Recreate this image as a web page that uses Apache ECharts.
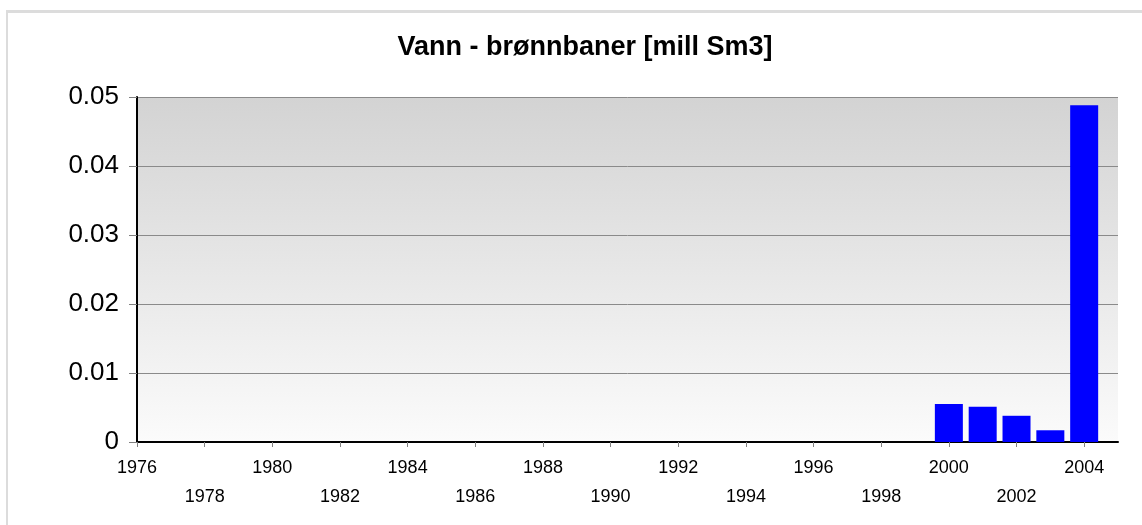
<!DOCTYPE html>
<html>
<head>
<meta charset="utf-8">
<script src="https://cdn.jsdelivr.net/npm/echarts@6/dist/echarts.min.js"></script>
<style>
html,body{margin:0;padding:0;background:#fff;}
#chart{width:1142px;height:525px;}
</style>
</head>
<body>
<div id="chart"></div>
<script>
const title = 'Vann - brønnbaner [mill Sm3]';
const years = [2000, 2001, 2002, 2003, 2004];
const values = [0.0055, 0.0051, 0.0038, 0.0017, 0.0488];
const xTickYears = [1976, 1978, 1980, 1982, 1984, 1986, 1988, 1990, 1992, 1994, 1996, 1998, 2000, 2002, 2004];
const yTicks = [0, 0.01, 0.02, 0.03, 0.04, 0.05];

const chart = echarts.init(document.getElementById('chart'), null, {renderer: 'canvas'});
const font = '"Liberation Sans", Arial, sans-serif';
chart.setOption({
  animation: false,
  backgroundColor: '#ffffff',
  graphic: [
    {type: 'rect', shape: {x: 6, y: 10, width: 1136, height: 3}, style: {fill: '#dcdcdc'}, silent: true},
    {type: 'rect', shape: {x: 6, y: 10, width: 2, height: 515}, style: {fill: '#dcdcdc'}, silent: true}
  ],
  title: {
    text: title,
    left: 580,
    textAlign: 'center',
    top: 29,
    textStyle: {fontFamily: font, fontSize: 27, fontWeight: 'bold', color: '#000'}
  },
  grid: {
    left: 137, right: 24, top: 97, bottom: 83,
    show: true,
    borderWidth: 0,
    backgroundColor: new echarts.graphic.LinearGradient(0, 0, 0, 1, [
      {offset: 0, color: '#d3d3d3'},
      {offset: 1, color: '#fbfbfb'}
    ])
  },
  xAxis: {
    type: 'value',
    min: 1976,
    max: 2005,
    interval: 2,
    axisLine: {show: true, onZero: false, lineStyle: {color: '#000', width: 2}},
    axisTick: {show: true, length: 5, customValues: xTickYears, lineStyle: {color: '#808080', width: 1}},
    splitLine: {show: false},
    axisLabel: {
      customValues: xTickYears,
      fontFamily: font, fontSize: 18, color: '#000',
      margin: 12, lineHeight: 29,
      formatter: function (v) {
        const idx = Math.round((v - 1976) / 2);
        return idx % 2 === 1 ? '\n' + v : String(v);
      }
    }
  },
  yAxis: {
    type: 'value',
    min: 0,
    max: 0.05,
    interval: 0.01,
    axisLine: {show: true, lineStyle: {color: '#000', width: 2}},
    axisTick: {show: true, length: 8, lineStyle: {color: '#808080', width: 1}},
    splitLine: {show: true, lineStyle: {color: '#8a8a8a', width: 1}},
    axisLabel: {
      fontFamily: font, fontSize: 26, color: '#000', margin: 18,
      formatter: function (v) {
        const i = yTicks.findIndex(t => Math.abs(t - v) < 1e-9);
        return i >= 0 ? String(yTicks[i]) : '';
      }
    }
  },
  series: [{
    type: 'bar',
    barWidth: 28,
    data: years.map((y, i) => [y, values[i]]),
    itemStyle: {color: '#0000ff'}
  }]
});
</script>
</body>
</html>
